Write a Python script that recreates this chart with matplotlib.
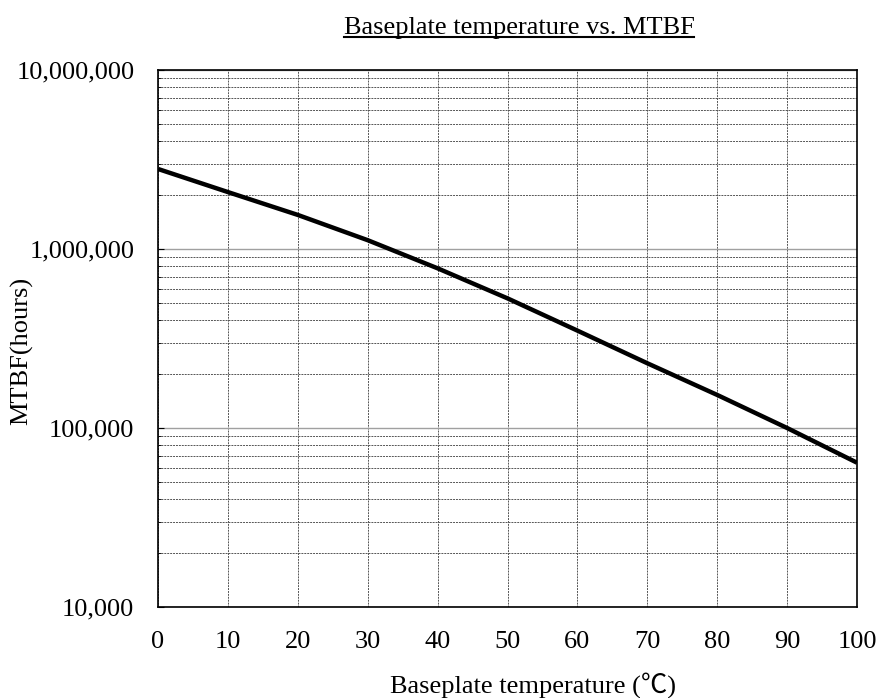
import matplotlib
matplotlib.use("Agg")
import matplotlib.pyplot as plt
from matplotlib.ticker import FixedLocator, LogLocator, NullFormatter, FuncFormatter
from matplotlib.lines import Line2D

plt.rcParams['font.family'] = ['Liberation Serif', 'DejaVu Serif']

# curve
temps = [0, 10, 20, 30, 40, 50, 60, 70, 80, 90, 100]
mtbf = [2.80e6, 2.08e6, 1.55e6, 1.12e6, 7.8e5, 5.3e5, 3.5e5, 2.3e5, 1.53e5, 1.0e5, 6.4e4]

x_ticks = [0, 10, 20, 30, 40, 50, 60, 70, 80, 90, 100]
y_ticks = [1e4, 1e5, 1e6, 1e7]

W, H = 876, 698
fig = plt.figure(figsize=(W / 100, H / 100), dpi=100)
ax = fig.add_axes([158 / W, 1 - 607 / H, 699 / W, 537 / H])

ax.plot(temps, mtbf, color='black', lw=3.2, solid_capstyle='butt', zorder=3)

ax.set_yscale('log')
ax.set_xlim(0, 100)
ax.set_ylim(1e4, 1e7)
ax.xaxis.set_major_locator(FixedLocator(x_ticks))
ax.yaxis.set_major_locator(FixedLocator(y_ticks))
ax.yaxis.set_minor_locator(LogLocator(base=10, subs=range(2, 10)))
ax.yaxis.set_minor_formatter(NullFormatter())
ax.yaxis.set_major_formatter(FuncFormatter(lambda v, p: f"{int(round(v)):,}"))

ax.grid(True, which='major', axis='y', color='#a0a0a0', lw=1.0, ls='-')
ax.grid(True, which='minor', axis='y', color='#555555', lw=0.7, ls=(0, (2, 1)))
ax.grid(True, which='major', axis='x', color='#555555', lw=0.7, ls=(0, (2, 1)))

ax.tick_params(axis='both', which='major', labelsize=19, length=4, direction='in')
ax.tick_params(axis='y', which='major', pad=17)
ax.tick_params(axis='y', which='minor', length=2.5, direction='in')
ax.tick_params(axis='x', which='major', length=0, pad=17)
for s in ax.spines.values():
    s.set_color('black')
    s.set_linewidth(1.2)

fig.text(22 / W, 1 - 351 / H, 'MTBF(hours)', rotation=90,
         ha='center', va='center', fontsize=19)
title = fig.text(519 / W, 1 - 34 / H, 'Baseplate temperature vs. MTBF',
                 ha='center', va='baseline', fontsize=19)
fig.text(533 / W, 1 - 693 / H, 'Baseplate temperature (\u2103)',
         ha='center', va='baseline', fontsize=19,
         family=['Liberation Serif', 'Noto Sans CJK JP', 'DejaVu Serif'])

# underline the title
fig.canvas.draw()
bb = title.get_window_extent().transformed(fig.transFigure.inverted())
uy = 1 - 37 / H
fig.add_artist(Line2D([bb.x0, bb.x1], [uy, uy],
                      transform=fig.transFigure, color='black', lw=1.5))

fig.savefig('out.png', dpi=100)
